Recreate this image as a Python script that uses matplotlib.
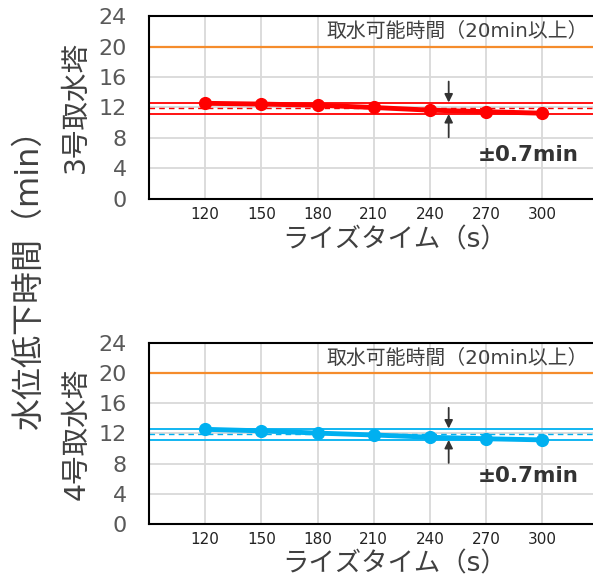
import matplotlib
matplotlib.use("Agg")
from matplotlib import pyplot as plt

plt.rcParams['font.family'] = ['DejaVu Sans', 'Noto Sans CJK JP']

rise_time = [120, 150, 180, 210, 240, 270, 300]
drop_no3 = [12.55, 12.45, 12.3, 12.0, 11.65, 11.45, 11.25]
drop_no4 = [12.55, 12.35, 12.05, 11.8, 11.5, 11.3, 11.15]
mean_no3 = 11.9
mean_no4 = 11.9
band = 0.7
limit = 20
yticks = [0, 4, 8, 12, 16, 20, 24]

panels = [
    ("3号取水塔", drop_no3, mean_no3, "#FF0000", 5.8, [0.2513, 0.6581, 0.758, 0.3144]),
    ("4号取水塔", drop_no4, mean_no4, "#00B0F0", 6.4, [0.2513, 0.0997, 0.758, 0.311]),
]

fig = plt.figure(figsize=(5.93, 5.82), dpi=100)

for name, values, mean, color, note_y, rect in panels:
    ax = fig.add_axes(rect)
    ax.set_xlim(90, 330)
    ax.set_ylim(0, 24)
    ax.set_xticks(rise_time)
    ax.set_yticks(yticks)
    ax.grid(True, color='#D9D9D9', linewidth=1.3)
    ax.set_axisbelow(True)
    for s in ax.spines.values():
        s.set_linewidth(1.5)
        s.set_color('black')
    ax.tick_params(axis='x', length=0, pad=6, labelsize=11, labelcolor='#222222')
    ax.tick_params(axis='y', length=0, pad=16, labelsize=16, labelcolor='#595959')

    ax.axhline(limit, color='#F58C2C', linewidth=1.6)
    ax.text(184.5, 22.0, "取水可能時間（20min以上）", fontsize=14.3, color='#404040',
            va='center', ha='left')

    ax.axhline(mean + band, color=color, linewidth=1.3)
    ax.axhline(mean - band, color=color, linewidth=1.3)
    ax.axhline(mean, color=color, linewidth=1.0, linestyle='--', dashes=(4, 3))
    ax.plot(rise_time, values, color=color, linewidth=3.5, marker='o', markersize=8.5)

    ax.annotate("", xy=(250, mean + band + 0.05), xytext=(250, 15.4),
                arrowprops=dict(arrowstyle='-|>', color='#333333', lw=1.3,
                                mutation_scale=12, shrinkA=0, shrinkB=0))
    ax.annotate("", xy=(250, mean - band - 0.05), xytext=(250, 8.1),
                arrowprops=dict(arrowstyle='-|>', color='#333333', lw=1.3,
                                mutation_scale=12, shrinkA=0, shrinkB=0))
    ax.text(292.3, note_y, "±0.7min", fontsize=15.5, fontweight='bold', color='#333333',
            ha='center', va='center')

    ax.set_ylabel(name, fontsize=20.5, color='#404040')
    ax.yaxis.set_label_coords(-0.162, 0.5)
    ax.yaxis.label.set_va('center')
    ax.set_xlabel("ライズタイム（s）", fontsize=19, color='#404040')
    ax.xaxis.set_label_coords(0.547, -0.224)
    ax.xaxis.label.set_va('center')

fig.text(0.05, 0.533, "水位低下時間（min）", rotation=90, fontsize=23, color='#404040',
         ha='center', va='center')

fig.savefig("out.png", dpi=100)
